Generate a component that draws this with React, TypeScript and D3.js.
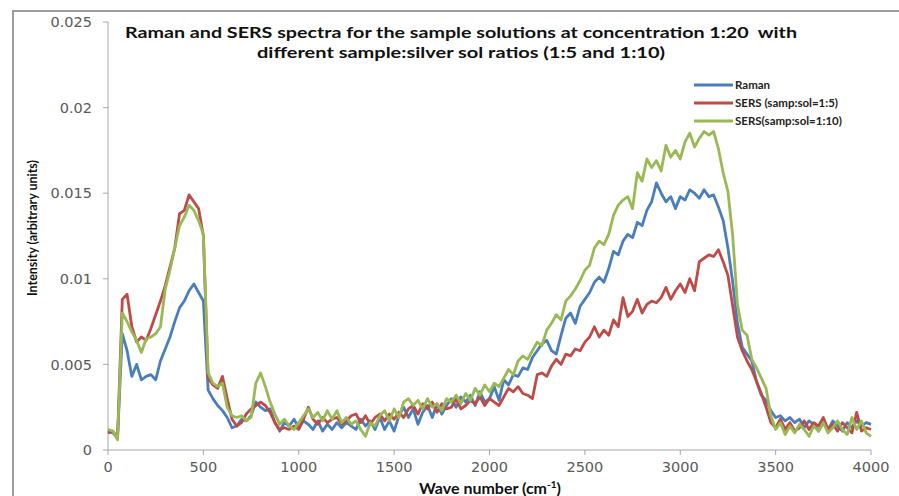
import React from "react";
import * as d3 from "d3";

const titleLines = [
  "Raman and SERS spectra for the sample solutions at concentration 1:20  with",
  "different sample:silver sol ratios (1:5 and 1:10)",
];
const xTicks = [0, 500, 1000, 1500, 2000, 2500, 3000, 3500, 4000];
const yTicks = [0, 0.005, 0.01, 0.015, 0.02, 0.025];
const yTickLabels = ["0", "0.005", "0.01", "0.015", "0.02", "0.025"];
const seriesNames = ["Raman", "SERS (samp:sol=1:5)", "SERS(samp:sol=1:10)"];
const seriesColors = ["#4A7EBB", "#BE4B48", "#98B954"];

// wave number grid (cm-1), 25 cm-1 steps
const waveNumbers = d3.range(0, 4001, 25);

const raman = [
  0.0011,0.0010,0.0007,0.0068,0.0058,0.0043,0.0050,0.0041,0.0043,0.0044,0.0041,0.0052,0.0059,0.0066,0.0075,0.0083,0.0087,0.0093,0.0097,0.0092,
  0.0087,0.0035,0.0030,0.0026,0.0023,0.0019,0.0013,0.0014,0.0018,0.0017,0.0020,0.0028,0.0025,0.0023,0.0024,0.0016,0.0011,0.0016,0.0014,0.0018,
  0.0013,0.0017,0.0015,0.0012,0.0017,0.0011,0.0015,0.0012,0.0016,0.0013,0.0016,0.0014,0.0012,0.0018,0.0014,0.0017,0.0012,0.0019,0.0012,0.0017,
  0.0011,0.0020,0.0025,0.0019,0.0024,0.0015,0.0022,0.0026,0.0019,0.0027,0.0021,0.0026,0.0030,0.0025,0.0031,0.0028,0.0032,0.0026,0.0034,0.0028,
  0.0030,0.0037,0.0029,0.0041,0.0038,0.0044,0.0043,0.0048,0.0047,0.0054,0.0058,0.0062,0.0064,0.0058,0.0056,0.0067,0.0077,0.0080,0.0074,0.0084,
  0.0088,0.0092,0.0098,0.0101,0.0098,0.0106,0.0116,0.0114,0.0122,0.0126,0.0124,0.0133,0.0131,0.0140,0.0145,0.0156,0.0150,0.0145,0.0148,0.0141,
  0.0148,0.0146,0.0152,0.0150,0.0147,0.0152,0.0148,0.0149,0.0142,0.0134,0.0118,0.0098,0.0074,0.0060,0.0056,0.0052,0.0040,0.0032,0.0029,0.0023,
  0.0019,0.0020,0.0017,0.0019,0.0016,0.0018,0.0013,0.0017,0.0015,0.0011,0.0016,0.0012,0.0017,0.0014,0.0011,0.0016,0.0013,0.0017,0.0014,0.0016,
  0.0015,
];

const sers5 = [
  0.0010,0.0011,0.0007,0.0088,0.0091,0.0072,0.0063,0.0066,0.0064,0.0071,0.0079,0.0087,0.0096,0.0107,0.0118,0.0138,0.0140,0.0149,0.0145,0.0141,
  0.0125,0.0042,0.0038,0.0036,0.0043,0.0030,0.0018,0.0014,0.0016,0.0021,0.0024,0.0026,0.0028,0.0026,0.0022,0.0016,0.0012,0.0013,0.0012,0.0014,
  0.0012,0.0018,0.0025,0.0018,0.0015,0.0019,0.0016,0.0018,0.0019,0.0015,0.0017,0.0020,0.0021,0.0016,0.0020,0.0015,0.0019,0.0021,0.0017,0.0021,
  0.0018,0.0022,0.0019,0.0024,0.0026,0.0021,0.0027,0.0024,0.0028,0.0022,0.0027,0.0024,0.0025,0.0030,0.0024,0.0026,0.0029,0.0027,0.0031,0.0026,
  0.0030,0.0028,0.0026,0.0031,0.0036,0.0034,0.0037,0.0033,0.0032,0.0030,0.0044,0.0045,0.0043,0.0049,0.0053,0.0050,0.0056,0.0055,0.0059,0.0058,
  0.0063,0.0066,0.0072,0.0066,0.0070,0.0067,0.0076,0.0072,0.0089,0.0078,0.0081,0.0088,0.0080,0.0085,0.0087,0.0086,0.0089,0.0095,0.0088,0.0093,
  0.0097,0.0092,0.0100,0.0093,0.0110,0.0112,0.0114,0.0113,0.0117,0.0110,0.0102,0.0084,0.0066,0.0058,0.0052,0.0047,0.0040,0.0033,0.0025,0.0016,
  0.0013,0.0018,0.0012,0.0016,0.0011,0.0013,0.0017,0.0012,0.0016,0.0014,0.0019,0.0012,0.0015,0.0011,0.0016,0.0013,0.0010,0.0022,0.0011,0.0013,
  0.0012,
];

const sers10 = [
  0.0012,0.0011,0.0006,0.0080,0.0075,0.0069,0.0064,0.0057,0.0065,0.0066,0.0068,0.0072,0.0094,0.0105,0.0118,0.0131,0.0136,0.0143,0.0140,0.0134,
  0.0126,0.0045,0.0039,0.0037,0.0039,0.0025,0.0020,0.0019,0.0020,0.0017,0.0019,0.0039,0.0045,0.0037,0.0028,0.0021,0.0015,0.0018,0.0014,0.0012,
  0.0016,0.0020,0.0024,0.0019,0.0022,0.0017,0.0023,0.0018,0.0023,0.0016,0.0019,0.0015,0.0017,0.0012,0.0008,0.0016,0.0014,0.0020,0.0023,0.0017,
  0.0024,0.0019,0.0028,0.0030,0.0026,0.0029,0.0024,0.0030,0.0025,0.0027,0.0023,0.0030,0.0028,0.0032,0.0027,0.0033,0.0029,0.0036,0.0032,0.0038,
  0.0034,0.0039,0.0037,0.0042,0.0047,0.0044,0.0052,0.0055,0.0053,0.0058,0.0063,0.0061,0.0070,0.0074,0.0079,0.0076,0.0087,0.0090,0.0094,0.0099,
  0.0105,0.0108,0.0118,0.0122,0.0120,0.0126,0.0137,0.0143,0.0146,0.0148,0.0141,0.0162,0.0157,0.0170,0.0165,0.0169,0.0163,0.0178,0.0171,0.0175,
  0.0170,0.0180,0.0185,0.0177,0.0182,0.0186,0.0184,0.0186,0.0176,0.0162,0.0151,0.0125,0.0085,0.0070,0.0067,0.0053,0.0048,0.0042,0.0036,0.0020,
  0.0012,0.0016,0.0009,0.0014,0.0010,0.0015,0.0012,0.0008,0.0014,0.0011,0.0016,0.0010,0.0013,0.0017,0.0012,0.0009,0.0019,0.0012,0.0017,0.0010,
  0.0008,
];

const allSeries = [raman, sers5, sers10];

export default function App() {
  const W = 899;
  const H = 496;
  const x = d3.scaleLinear().domain([0, 4000]).range([108, 871]);
  const y = d3.scaleLinear().domain([0, 0.025]).range([450, 22]);
  const line = d3
    .line<number>()
    .x((_, i) => x(waveNumbers[i]))
    .y((d) => y(d));

  const axisColor = "#a6a6a6";
  const tickFont = "'DejaVu Sans', sans-serif";
  const titleFont = "Lato, 'Open Sans', sans-serif";

  return (
    <svg
      width={W}
      height={H}
      style={{ position: "absolute", left: 0, top: 0, background: "#fff" }}
    >
      <rect x={0} y={0} width={W} height={H} fill="#fff" />
      <rect x={13} y={11} width={W} height={H} fill="none" stroke="#9d9d9d" strokeWidth={2} />

      {/* axes */}
      <line x1={x(0)} x2={x(0)} y1={y(0.025)} y2={y(0)} stroke={axisColor} strokeWidth={1} />
      <line x1={x(0)} x2={x(4000)} y1={y(0)} y2={y(0)} stroke={axisColor} strokeWidth={1} />
      {yTicks.map((t, i) => (
        <g key={"yt" + i}>
          <line x1={x(0) - 5} x2={x(0)} y1={y(t)} y2={y(t)} stroke={axisColor} />
          <text
            x={92}
            y={y(t)}
            dy="0.36em"
            textAnchor="end"
            fontFamily={tickFont}
            fontSize={14.5}
            fill="#595959"
          >
            {yTickLabels[i]}
          </text>
        </g>
      ))}
      {xTicks.map((t) => (
        <g key={"xt" + t}>
          <line x1={x(t)} x2={x(t)} y1={y(0)} y2={y(0) + 5} stroke={axisColor} />
          <text
            x={x(t)}
            y={472}
            textAnchor="middle"
            fontFamily={tickFont}
            fontSize={14.5}
            fill="#595959"
          >
            {t}
          </text>
        </g>
      ))}

      {/* series */}
      {allSeries.map((s, i) => (
        <path
          key={"s" + i}
          d={line(s) || ""}
          fill="none"
          stroke={seriesColors[i]}
          strokeWidth={2.8}
          strokeLinejoin="round"
        />
      ))}

      {/* title */}
      <text
        x={461}
        y={38}
        textAnchor="middle"
        fontFamily={titleFont}
        fontWeight="bold"
        fontSize={15}
        fill="#111"
        textLength={672}
        lengthAdjust="spacingAndGlyphs"
        style={{ whiteSpace: "pre" }}
      >
        {titleLines[0]}
      </text>
      <text
        x={461}
        y={58}
        textAnchor="middle"
        fontFamily={titleFont}
        fontWeight="bold"
        fontSize={15}
        fill="#111"
        textLength={408}
        lengthAdjust="spacingAndGlyphs"
      >
        {titleLines[1]}
      </text>

      {/* axis titles */}
      <text
        transform={`translate(37, 228) rotate(-90)`}
        textAnchor="middle"
        fontFamily={titleFont}
        fontWeight="bold"
        fontSize={13}
        fill="#111"
        textLength={136}
        lengthAdjust="spacingAndGlyphs"
      >
        Intensity (arbitrary units)
      </text>
      <text
        x={490}
        y={494}
        textAnchor="middle"
        fontFamily={titleFont}
        fontWeight="bold"
        fontSize={16}
        fill="#111"
      >
        Wave number (cm
        <tspan dy={-6} fontSize={10}>-1</tspan>
        <tspan dy={6}>)</tspan>
      </text>

      {/* legend */}
      {seriesNames.map((n, i) => (
        <g key={"lg" + i}>
          <line
            x1={694}
            x2={733}
            y1={85 + i * 18}
            y2={85 + i * 18}
            stroke={seriesColors[i]}
            strokeWidth={2.8}
          />
          <text
            x={735}
            y={85 + i * 18}
            dy="0.35em"
            fontFamily={titleFont}
            fontWeight="bold"
            fontSize={11.5}
            fill="#222"
          >
            {n}
          </text>
        </g>
      ))}
    </svg>
  );
}
